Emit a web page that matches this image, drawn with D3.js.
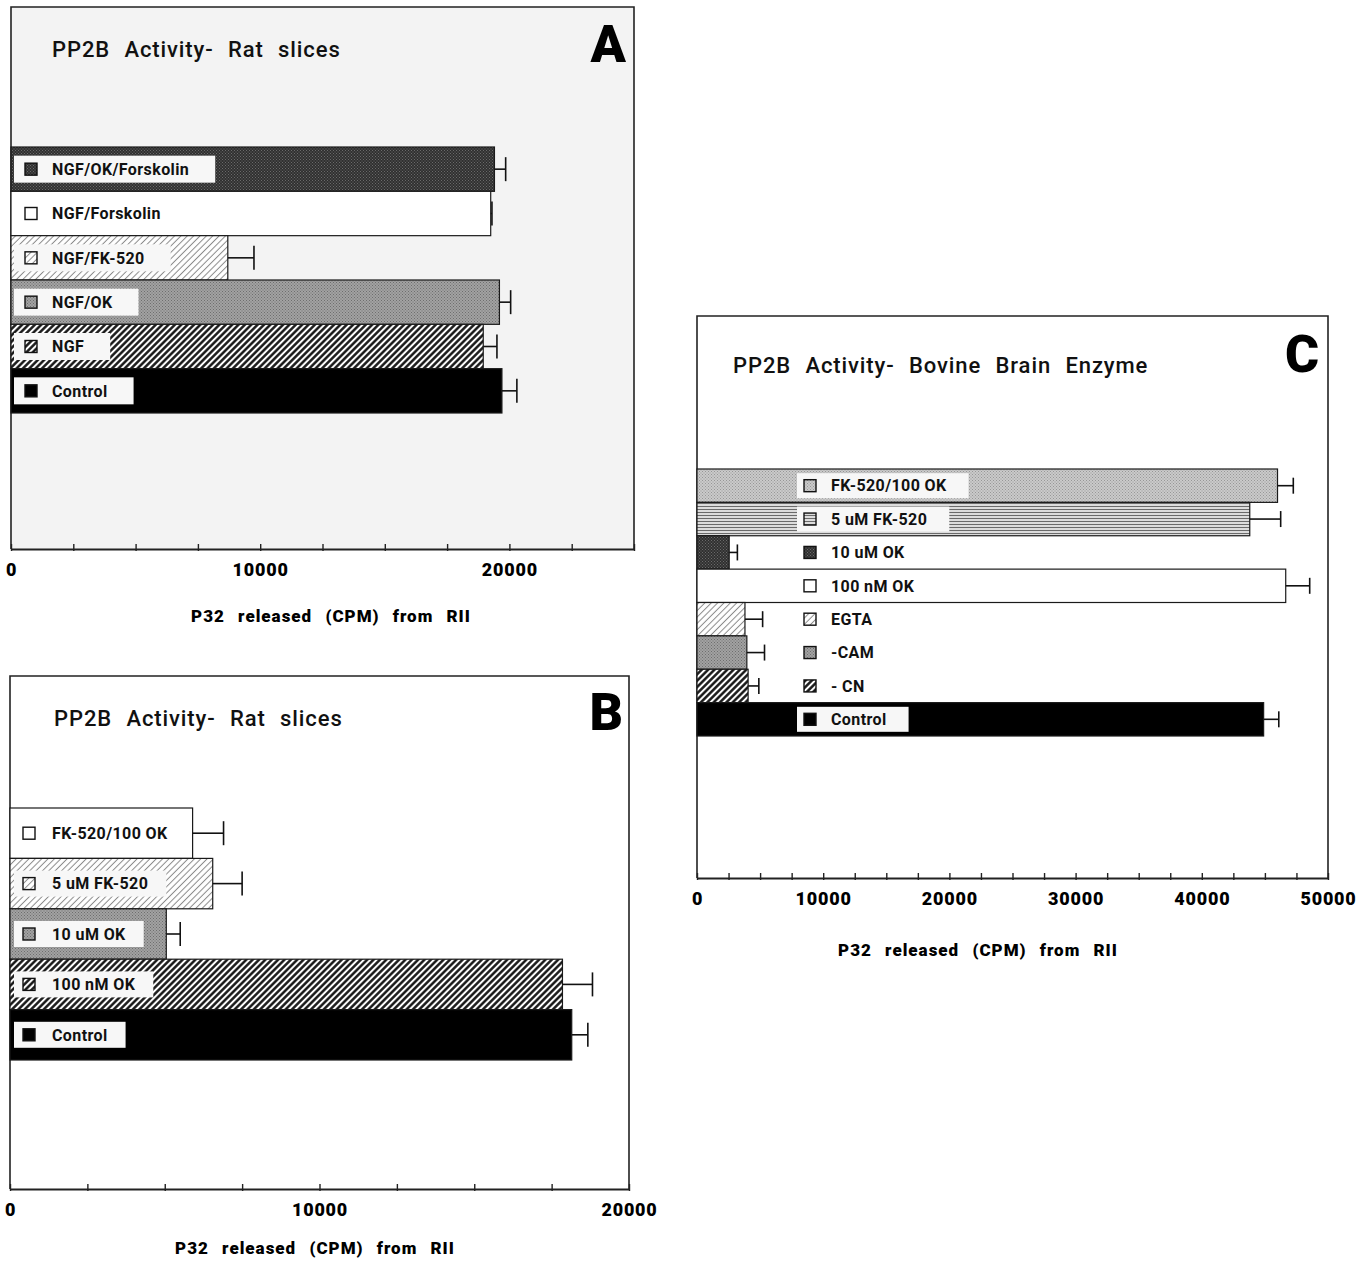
<!DOCTYPE html>
<html>
<head>
<meta charset="utf-8">
<script src="https://cdn.jsdelivr.net/npm/d3@7"></script>
<style>
  body { margin: 0; background: #fff; }
  svg { display: block; }
</style>
</head>
<body>
<svg id="fig" width="1367" height="1261"></svg>
<script>
// Panel A - rat slices
const aLabels = ['NGF/OK/Forskolin', 'NGF/Forskolin', 'NGF/FK-520', 'NGF/OK', 'NGF', 'Control']
const aValues = [19400, 19250, 8700, 19600, 18950, 19700]
const aErrors = [450, 50, 1050, 450, 550, 600]
const aTicks = [0, 2500, 5000, 7500, 10000, 12500, 15000, 17500, 20000, 22500, 25000]
const aTickLabels = [0, 10000, 20000]

// Panel B - rat slices
const bLabels = ['FK-520/100 OK', '5 uM FK-520', '10 uM OK', '100 nM OK', 'Control']
const bValues = [5900, 6550, 5050, 17850, 18150]
const bErrors = [1000, 950, 450, 970, 520]
const bTicks = [0, 2500, 5000, 7500, 10000, 12500, 15000, 17500, 20000]
const bTickLabels = [0, 10000, 20000]

// Panel C - bovine brain enzyme
const cLabels = ['FK-520/100 OK', '5 uM FK-520', '10 uM OK', '100 nM OK', 'EGTA', '-CAM', '- CN', 'Control']
const cValues = [46000, 43800, 2550, 46650, 3800, 3950, 4050, 44900]
const cErrors = [1250, 2450, 650, 1900, 1400, 1400, 850, 1200]
const cTicks = [0, 2500, 5000, 7500, 10000, 12500, 15000, 17500, 20000, 22500, 25000,
  27500, 30000, 32500, 35000, 37500, 40000, 42500, 45000, 47500, 50000]
const cTickLabels = [0, 10000, 20000, 30000, 40000, 50000]

const svg = d3.select('#fig')
const defs = svg.append('defs')

const heavy = "Roboto, 'Liberation Sans', Arial, sans-serif"

function stipple (id, base, dot) {
  const p = defs.append('pattern').attr('id', id)
    .attr('patternUnits', 'userSpaceOnUse').attr('width', 3).attr('height', 3)
  p.append('rect').attr('width', 3).attr('height', 3).attr('fill', base)
  p.append('rect').attr('width', 1).attr('height', 1).attr('fill', dot)
  p.append('rect').attr('x', 1.5).attr('y', 1.5).attr('width', 1).attr('height', 1).attr('fill', dot)
}

function hatch (id, color, width, gap) {
  const p = defs.append('pattern').attr('id', id)
    .attr('patternUnits', 'userSpaceOnUse').attr('width', gap).attr('height', gap)
    .attr('patternTransform', 'rotate(45)')
  p.append('rect').attr('width', gap).attr('height', gap).attr('fill', '#fff')
  p.append('line').attr('x1', gap / 2).attr('x2', gap / 2).attr('y1', 0).attr('y2', gap)
    .attr('stroke', color).attr('stroke-width', width)
}

stipple('stippleDark', '#303030', '#6a6a6a')
stipple('stippleMid', '#a2a2a2', '#6e6e6e')
stipple('stippleLight', '#cacaca', '#979797')
hatch('hatchLight', '#8a8a8a', 1, 4.5)
hatch('hatchDark', '#111', 2.4, 4.5)

const hl = defs.append('pattern').attr('id', 'hlines')
  .attr('patternUnits', 'userSpaceOnUse').attr('width', 4).attr('height', 3)
hl.append('rect').attr('width', 4).attr('height', 3).attr('fill', '#dcdcdc')
hl.append('rect').attr('y', 2).attr('width', 4).attr('height', 1).attr('fill', '#6a6a6a')

function fillOf (key) {
  if (key === 'white') return '#fff'
  if (key === 'black') return '#000'
  return 'url(#' + key + ')'
}

/**
 * Draws one framed horizontal bar chart panel.
 *
 * @param {object} p The panel layout and its data arrays
 */
function drawPanel (p) {
  const g = svg.append('g')
  const x = d3.scaleLinear().domain([0, p.max]).range([p.left, p.right])
  const y = d3.scaleBand().domain(p.labels).range([p.bandTop, p.bandBottom])
  const rows = p.labels.map((label, i) => ({ label, value: p.values[i], err: p.errors[i], fill: p.fills[i] }))

  g.append('rect')
    .attr('x', p.left).attr('y', p.top)
    .attr('width', p.right - p.left).attr('height', p.bottom - p.top)
    .attr('fill', p.bg)

  g.append('path')
    .attr('d', `M${p.left},${p.bottom}V${p.top}H${p.right}V${p.bottom}`)
    .attr('fill', 'none').attr('stroke', '#222').attr('stroke-width', 1.6)

  g.selectAll('.bar').data(rows).enter().append('rect')
    .attr('class', 'bar')
    .attr('x', x(0))
    .attr('y', d => y(d.label))
    .attr('width', d => x(d.value) - x(0))
    .attr('height', y.bandwidth())
    .attr('fill', d => fillOf(d.fill))
    .attr('stroke', '#1a1a1a').attr('stroke-width', 1.2)

  const err = g.selectAll('.err').data(rows).enter().append('g').attr('class', 'err')
    .attr('stroke', '#111').attr('stroke-width', 1.6)
  err.append('line')
    .attr('x1', d => x(d.value)).attr('x2', d => x(d.value + d.err))
    .attr('y1', d => y(d.label) + y.bandwidth() / 2)
    .attr('y2', d => y(d.label) + y.bandwidth() / 2)
  err.append('line')
    .attr('x1', d => x(d.value + d.err)).attr('x2', d => x(d.value + d.err))
    .attr('y1', d => y(d.label) + y.bandwidth() / 2 - p.capH / 2)
    .attr('y2', d => y(d.label) + y.bandwidth() / 2 + p.capH / 2)

  rows.forEach(d => {
    const cy = y(d.label) + y.bandwidth() / 2
    const bx = p.left + p.boxX
    const lg = g.append('g')
    const txt = lg.append('text')
      .attr('x', bx + p.textDx).attr('y', cy)
      .attr('dy', '0.36em')
      .attr('font-family', heavy).attr('font-weight', 700)
      .attr('font-size', 16).attr('letter-spacing', 0.4).attr('fill', '#111')
      .text(d.label)
    const w = txt.node().getComputedTextLength()
    if (d.fill !== 'white' && x(d.value) > bx + 4) {
      lg.insert('rect', 'text')
        .attr('x', bx).attr('y', cy - p.boxH / 2)
        .attr('width', Math.min(p.textDx + w + p.boxPad, x(d.value) - bx))
        .attr('height', p.boxH)
        .attr('fill', '#f7f7f7')
    }
    lg.append('rect')
      .attr('x', bx + p.swatchDx).attr('y', cy - 6)
      .attr('width', 12).attr('height', 12)
      .attr('fill', fillOf(d.fill))
      .attr('stroke', '#111').attr('stroke-width', 1.4)
  })

  const axis = g.append('g')
    .attr('transform', `translate(0,${p.bottom})`)
    .call(d3.axisBottom(x)
      .tickValues(p.ticks)
      .tickSizeInner(-5)
      .tickSizeOuter(0)
      .tickPadding(14)
      .tickFormat(d => p.tickLabels.includes(d) ? String(d) : ''))
  axis.select('.domain').attr('stroke', '#222').attr('stroke-width', 1.8)
  axis.selectAll('.tick line').attr('y1', 2).attr('stroke', '#222').attr('stroke-width', 1.4)
  axis.selectAll('.tick text')
    .attr('font-family', heavy).attr('font-weight', 900)
    .attr('font-size', 18).attr('letter-spacing', 0.8).attr('fill', '#000')

  g.append('text')
    .attr('x', p.axisTitleX).attr('y', p.axisTitleY)
    .attr('text-anchor', 'middle')
    .attr('font-family', heavy).attr('font-weight', 900)
    .attr('font-size', 17).attr('word-spacing', 8).attr('letter-spacing', 1)
    .text('P32 released (CPM) from RII')

  g.append('text')
    .attr('x', p.titleX).attr('y', p.titleY)
    .attr('font-family', heavy).attr('font-weight', 500)
    .attr('font-size', 22).attr('word-spacing', 8).attr('letter-spacing', 0.9)
    .attr('fill', '#111')
    .text(p.title)

  g.append('text')
    .attr('x', p.letterX).attr('y', p.letterY)
    .attr('text-anchor', 'end')
    .attr('font-family', heavy).attr('font-weight', 900)
    .attr('font-size', 52).attr('fill', '#000')
    .text(p.letter)
}

drawPanel({
  labels: aLabels, values: aValues, errors: aErrors, ticks: aTicks, tickLabels: aTickLabels,
  fills: ['stippleDark', 'white', 'hatchLight', 'stippleMid', 'hatchDark', 'black'],
  max: 25000, left: 11, right: 634, top: 7, bottom: 549, bg: '#f3f3f3',
  bandTop: 147, bandBottom: 413, capH: 24,
  boxX: 3, boxH: 27, boxPad: 26, swatchDx: 11, textDx: 38,
  title: 'PP2B Activity- Rat slices', titleX: 52, titleY: 57,
  letter: 'A', letterX: 626, letterY: 62,
  axisTitleX: 331, axisTitleY: 622
})

drawPanel({
  labels: bLabels, values: bValues, errors: bErrors, ticks: bTicks, tickLabels: bTickLabels,
  fills: ['white', 'hatchLight', 'stippleMid', 'hatchDark', 'black'],
  max: 20000, left: 10, right: 629, top: 676, bottom: 1189, bg: '#fff',
  bandTop: 808, bandBottom: 1060, capH: 24,
  boxX: 4, boxH: 26, boxPad: 18, swatchDx: 9, textDx: 38,
  title: 'PP2B Activity- Rat slices', titleX: 54, titleY: 726,
  letter: 'B', letterX: 623, letterY: 730,
  axisTitleX: 315, axisTitleY: 1254
})

drawPanel({
  labels: cLabels, values: cValues, errors: cErrors, ticks: cTicks, tickLabels: cTickLabels,
  fills: ['stippleLight', 'hlines', 'stippleDark', 'white', 'hatchLight', 'stippleMid', 'hatchDark', 'black'],
  max: 50000, left: 697, right: 1328, top: 316, bottom: 878, bg: '#fff',
  bandTop: 469, bandBottom: 736, capH: 16,
  boxX: 100, boxH: 25, boxPad: 22, swatchDx: 7, textDx: 34,
  title: 'PP2B Activity- Bovine Brain Enzyme', titleX: 733, titleY: 373,
  letter: 'C', letterX: 1319, letterY: 372,
  axisTitleX: 978, axisTitleY: 956
})
</script>
</body>
</html>
